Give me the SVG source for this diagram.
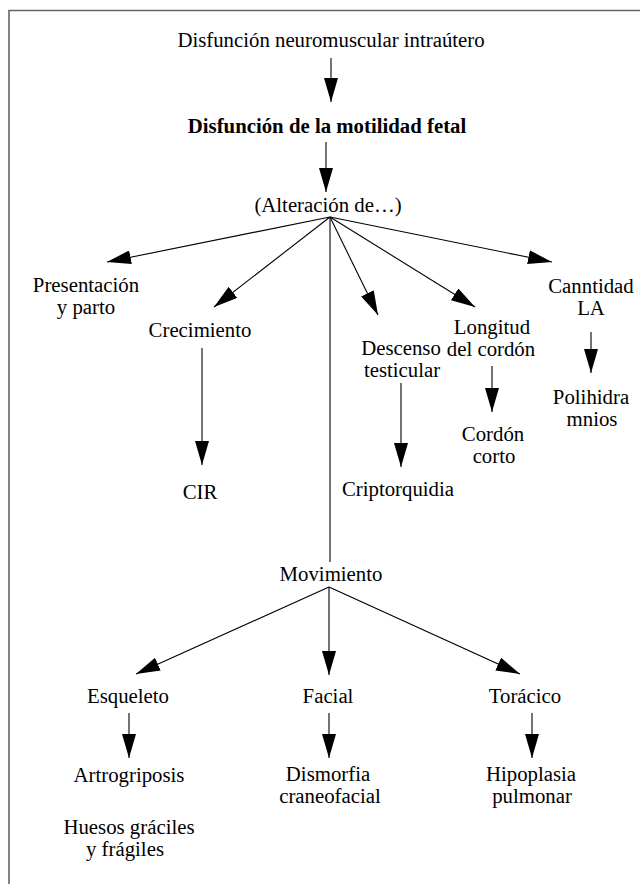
<svg xmlns="http://www.w3.org/2000/svg" width="640" height="884" viewBox="0 0 640 884">
<defs>
<marker id="ah" markerUnits="userSpaceOnUse" markerWidth="24" markerHeight="14" refX="24" refY="7" orient="auto" viewBox="0 0 24 14">
<path d="M0,0 L24,7 L0,14 z" fill="#000"/>
</marker>
<style>
.t text{font-family:'Liberation Serif','Times New Roman','DejaVu Serif',serif;font-size:20.8px;fill:#000;text-anchor:middle}
.t .b{font-weight:bold}
.c line{stroke:#000;stroke-width:1.1;fill:none}
.c .a{marker-end:url(#ah)}
.frame{stroke:#666;stroke-width:1.6;fill:none}
</style>
</defs>
<rect width="640" height="884" fill="#fff"/>
<path class="frame" d="M9,884 L9,10.5 L640,10.5"/>
<g class="c" id="connectors">
<line class="a" x1="331" y1="58" x2="331" y2="102"/>
<line class="a" x1="326" y1="142" x2="326" y2="192"/>
<line class="a" x1="330" y1="217" x2="107" y2="262"/>
<line class="a" x1="330" y1="217" x2="214" y2="307"/>
<line class="a" x1="330" y1="217" x2="378" y2="315"/>
<line class="a" x1="330" y1="217" x2="475" y2="307"/>
<line class="a" x1="330" y1="217" x2="552" y2="262"/>
<line x1="330" y1="217" x2="330" y2="562"/>
<line class="a" x1="202" y1="348" x2="202" y2="465"/>
<line class="a" x1="401" y1="383" x2="401" y2="467"/>
<line class="a" x1="492" y1="366" x2="492" y2="412"/>
<line class="a" x1="591" y1="332" x2="591" y2="373"/>
<line class="a" x1="329" y1="587" x2="136" y2="674"/>
<line class="a" x1="329" y1="587" x2="329" y2="675"/>
<line class="a" x1="329" y1="587" x2="520" y2="674"/>
<line class="a" x1="129" y1="713" x2="129" y2="758"/>
<line class="a" x1="329" y1="713" x2="329" y2="758"/>
<line class="a" x1="532" y1="713" x2="532" y2="758"/>
</g>
<g class="t" font-family="Liberation Serif, Times New Roman, DejaVu Serif, serif" font-size="20.8" text-anchor="middle">
<g id="n-origen"><text x="331" y="47">Disfunción neuromuscular intraútero</text></g>
<g id="n-motilidad"><text class="b" font-weight="bold" x="327" y="133">Disfunción de la motilidad fetal</text></g>
<g id="n-alteracion"><text x="328" y="212">(Alteración de…)</text></g>
<g id="n-presentacion"><text x="86" y="292">Presentación</text><text x="86" y="314">y parto</text></g>
<g id="n-crecimiento"><text x="200" y="337">Crecimiento</text></g>
<g id="n-descenso"><text x="401" y="355">Descenso</text><text x="402" y="377">testicular</text></g>
<g id="n-longitud"><text x="492" y="334">Longitud</text><text x="491" y="356">del cordón</text></g>
<g id="n-cantidad"><text x="591" y="293">Canntidad</text><text x="591" y="315">LA</text></g>
<g id="n-polihidramnios"><text x="591" y="404">Polihidra</text><text x="592" y="426">mnios</text></g>
<g id="n-cordon"><text x="493" y="441">Cordón</text><text x="494" y="463">corto</text></g>
<g id="n-cir"><text x="200" y="499">CIR</text></g>
<g id="n-criptorquidia"><text x="398" y="496">Criptorquidia</text></g>
<g id="n-movimiento"><text x="331" y="581">Movimiento</text></g>
<g id="n-esqueleto"><text x="128" y="703">Esqueleto</text></g>
<g id="n-facial"><text x="328" y="703">Facial</text></g>
<g id="n-toracico"><text x="525" y="703">Torácico</text></g>
<g id="n-artrogriposis"><text x="129" y="782">Artrogriposis</text></g>
<g id="n-dismorfia"><text x="328" y="781">Dismorfia</text><text x="330" y="803">craneofacial</text></g>
<g id="n-hipoplasia"><text x="531" y="781">Hipoplasia</text><text x="532" y="803">pulmonar</text></g>
<g id="n-huesos"><text x="129" y="834">Huesos gráciles</text><text x="125" y="856">y frágiles</text></g>
</g>
</svg>
